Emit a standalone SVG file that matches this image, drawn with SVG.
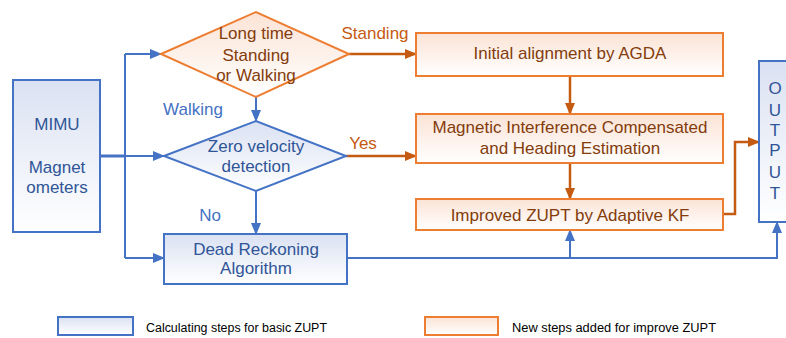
<svg xmlns="http://www.w3.org/2000/svg" width="786" height="338" viewBox="0 0 786 338">
<defs>
<linearGradient id="gb" x1="0" y1="0" x2="0" y2="1"><stop offset="0" stop-color="#DAE1F2"/><stop offset="1" stop-color="#FFFFFF"/></linearGradient>
<linearGradient id="go" x1="0" y1="0" x2="0" y2="1"><stop offset="0" stop-color="#FBE3D5"/><stop offset="1" stop-color="#FFFFFF"/></linearGradient>
<marker id="ab" markerUnits="userSpaceOnUse" markerWidth="12" markerHeight="12" viewBox="0 0 12 12" refX="11" refY="6" orient="auto"><path d="M0,1 L12,6 L0,11 Z" fill="#4472C4"/></marker>
<marker id="ao" markerUnits="userSpaceOnUse" markerWidth="12" markerHeight="12" viewBox="0 0 12 12" refX="11" refY="6" orient="auto"><path d="M0,1 L12,6 L0,11 Z" fill="#C55A11"/></marker>
<style>
text{font-family:"Liberation Sans",Arial,sans-serif;font-size:17px;text-anchor:middle}
.nb{fill:url(#gb);stroke:#4472C4;stroke-width:2}
.no{fill:url(#go);stroke:#ED7D31;stroke-width:2}
.tb{fill:#2F5597}
.to{fill:#843C0C}
.lb{fill:#4472C4}
.lo{fill:#C55A11}
.cb{fill:none;stroke:#4472C4;stroke-width:2}
.co{fill:none;stroke:#C55A11;stroke-width:2.5}
.leg{font-size:12.5px;text-anchor:start;fill:#000}
</style>
</defs>
<g id="connectors">
<path class="cb" d="M125,54 V258"/>
<path class="cb" d="M125,54 H161" marker-end="url(#ab)"/>
<path class="cb" d="M100,156 H125" style="stroke-width:3"/>
<path class="cb" d="M125,156 H164" marker-end="url(#ab)"/>
<path class="cb" d="M125,258 H164" marker-end="url(#ab)"/>
<path class="cb" d="M256,97 V121" marker-end="url(#ab)"/>
<path class="cb" d="M256,191 V234" marker-end="url(#ab)"/>
<path class="cb" d="M347,258 H777 V222" marker-end="url(#ab)"/>
<path class="cb" d="M570,258 V230" marker-end="url(#ab)"/>
<path class="co" d="M349,54 H416" marker-end="url(#ao)"/>
<path class="co" d="M346,156 H416" marker-end="url(#ao)"/>
<path class="co" d="M570,76 V114" marker-end="url(#ao)"/>
<path class="co" d="M570,163 V199" marker-end="url(#ao)"/>
<path class="co" d="M723,214 H735 V142 H759" marker-end="url(#ao)"/>
<text class="lo" x="375" y="39">Standing</text>
<text class="lo" x="363" y="149">Yes</text>
<text class="lb" x="193" y="115">Walking</text>
<text class="lb" x="210" y="221">No</text>
</g>
<g id="mimu">
<rect class="nb" x="13" y="80" width="87" height="152"/>
<text class="tb" x="57" y="130">MIMU</text>
<text class="tb" x="57" y="173">Magnet</text>
<text class="tb" x="57" y="193">ometers</text>
</g>
<g id="decision-standing">
<polygon class="no" points="161,54 256,12 349,54 256,97"/>
<text class="to" x="256" y="39">Long time</text>
<text class="to" x="256" y="61">Standing</text>
<text class="to" x="256" y="81">or Walking</text>
</g>
<g id="decision-zero-velocity">
<polygon class="nb" points="164,156 256,121 346,156 256,191"/>
<text class="tb" x="256" y="152">Zero velocity</text>
<text class="tb" x="256" y="172">detection</text>
</g>
<g id="dead-reckoning">
<rect class="nb" x="164" y="234" width="183" height="50"/>
<text class="tb" x="256" y="255">Dead Reckoning</text>
<text class="tb" x="256" y="274">Algorithm</text>
</g>
<g id="initial-alignment">
<rect class="no" x="416" y="33" width="307" height="43"/>
<text class="to" x="570" y="59">Initial alignment by AGDA</text>
</g>
<g id="magnetic-interference">
<rect class="no" x="416" y="114" width="307" height="49"/>
<text class="to" x="570" y="133">Magnetic Interference Compensated</text>
<text class="to" x="570" y="154">and Heading Estimation</text>
</g>
<g id="improved-zupt">
<rect class="no" x="416" y="199" width="307" height="31"/>
<text class="to" x="570" y="221">Improved ZUPT by Adaptive KF</text>
</g>
<g id="output">
<rect class="nb" x="759" y="61" width="40" height="161"/>
<text class="tb" x="775" y="94">O</text>
<text class="tb" x="775" y="116">U</text>
<text class="tb" x="775" y="136">T</text>
<text class="tb" x="775" y="156">P</text>
<text class="tb" x="775" y="178">U</text>
<text class="tb" x="775" y="199">T</text>
</g>
<g id="legend">
<rect class="nb" x="58" y="317" width="75" height="18"/>
<text class="leg" x="146" y="332" textLength="181" lengthAdjust="spacingAndGlyphs">Calculating steps for basic ZUPT</text>
<rect class="no" x="425" y="317" width="73" height="18"/>
<text class="leg" x="512" y="332" textLength="204" lengthAdjust="spacingAndGlyphs">New steps added for improve ZUPT</text>
</g>
</svg>
